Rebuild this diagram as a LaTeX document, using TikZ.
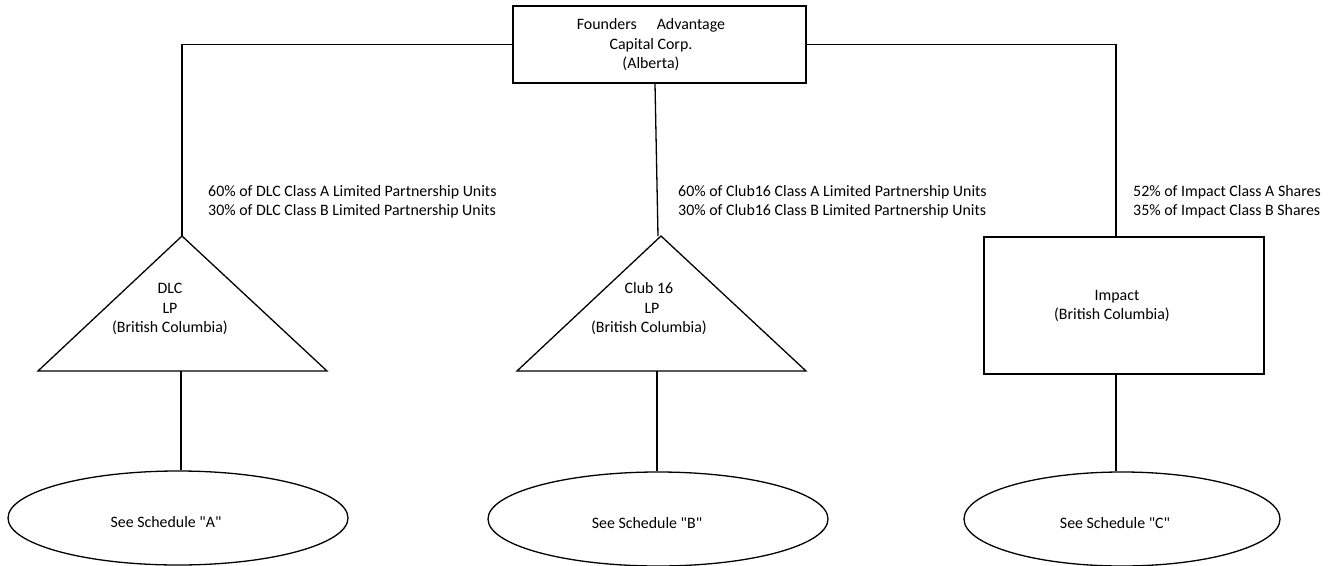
\documentclass[tikz,border=0pt]{standalone}
\usepackage{fontspec}
\setmainfont{Carlito}[Ligatures=TeXOff]
\usetikzlibrary{shapes.geometric}
\tikzset{
  ln/.style={line width=1.3pt, black},
  boxn/.style={draw, ln, rectangle, inner sep=0pt},
  ovaln/.style={draw, ln, ellipse, inner sep=0pt, minimum width=340pt, minimum height=94pt},
  txt/.style={inner sep=0pt, align=center, font=\fontsize{15.9}{19.5}\selectfont},
  lbl/.style={inner sep=0pt, anchor=west, align=left, font=\fontsize{15.9}{19.5}\selectfont},
}
\begin{document}
\begin{tikzpicture}[x=1pt,y=-1pt]
\useasboundingbox (0,0) rectangle (1333,565);
% top box
\node[boxn, minimum width=293pt, minimum height=77pt] (top) at (659.5,44.5) {};
\node[txt] (toptxt) at (651,45) {Founders\hspace{20pt}Advantage\\Capital Corp.\\(Alberta)};
% triangles
\coordinate (t1) at (182,236);
\coordinate (t1b) at (181,371);
\draw[ln, line join=miter] (t1) -- (38,371) -- (327,371) -- cycle;
\node[txt] (t1txt) at (170,309) {DLC\\LP\\(British Columbia)};
\coordinate (t2) at (661,236);
\coordinate (t2b) at (657,371);
\draw[ln, line join=miter] (t2) -- (517,371) -- (806,371) -- cycle;
\node[txt] (t2txt) at (649,309) {Club 16\\\hspace{6pt}LP\\(British Columbia)};
% impact box
\node[boxn, minimum width=280pt, minimum height=137pt] (imp) at (1124,305.5) {};
\coordinate (impt) at (1116,237);
\coordinate (impb) at (1116,374);
\node[txt] (imptxt) at (1112,306) {\hspace{10pt}Impact\\(British Columbia)};
% ellipses
\node[ovaln] (e1) at (178,518) {};
\node[txt] (e1t) at (166,522) {See Schedule "A"};
\node[ovaln] (e2) at (658,519) {};
\node[txt] (e2t) at (647,523) {See Schedule "B"};
\node[ovaln, minimum width=316pt] (e3) at (1122,519) {};
\node[txt] (e3t) at (1115,523) {See Schedule "C"};
% labels
\node[lbl] (l1) at (208,202) {60\% of DLC Class A Limited Partnership Units\\30\% of DLC Class B Limited Partnership Units};
\node[lbl] (l2) at (678,202) {60\% of Club16 Class A Limited Partnership Units\\30\% of Club16 Class B Limited Partnership Units};
\node[lbl] (l3) at (1133,202) {52\% of Impact Class A Shares\\35\% of Impact Class B Shares};
% connectors
\draw[ln] (top.west) -| (t1);
\draw[ln] (top.east) -| (impt);
\draw[ln] ([xshift=-4.5pt]top.south) -- ([xshift=-3pt]t2);
\draw[ln] (t1b) -- (e1.north -| t1b);
\draw[ln] (t2b) -- (e2.north -| t2b);
\draw[ln] (impb) -- (e3.north -| impb);
\end{tikzpicture}
\end{document}
